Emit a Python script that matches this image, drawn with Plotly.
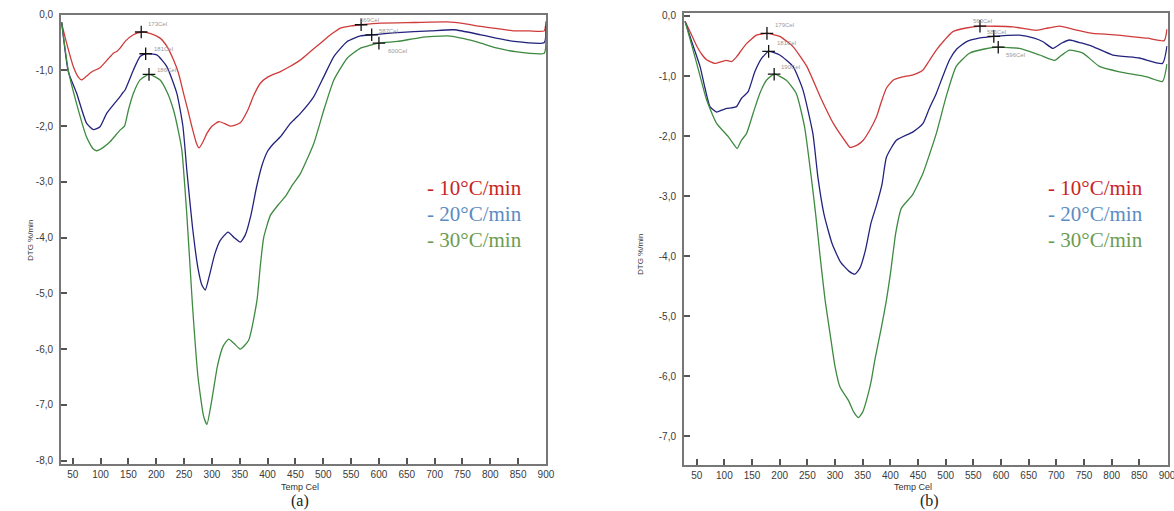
import plotly.graph_objects as go

# ---------------- Data: panel (a) ----------------
a_x_10 = [30, 39, 51, 60, 66, 75, 85, 99, 113, 123, 129, 135, 145, 159, 174, 190, 207, 220, 231, 240, 249, 257, 264, 272, 277, 284, 291, 300, 312, 322, 333, 342, 351, 365, 375, 387, 400, 423, 440, 459, 477, 495, 513, 531, 550, 568, 603, 663, 723, 753, 783, 813, 843, 870, 897, 900]
a_y_10 = [-0.15, -0.51, -0.93, -1.12, -1.17, -1.10, -1.02, -0.95, -0.80, -0.69, -0.66, -0.60, -0.47, -0.36, -0.31, -0.34, -0.42, -0.58, -0.81, -1.05, -1.41, -1.72, -2.01, -2.30, -2.39, -2.28, -2.13, -2.00, -1.92, -1.95, -2.00, -1.98, -1.94, -1.70, -1.45, -1.23, -1.12, -1.02, -0.93, -0.81, -0.66, -0.51, -0.36, -0.24, -0.20, -0.18, -0.15, -0.14, -0.13, -0.16, -0.21, -0.25, -0.29, -0.29, -0.29, -0.12]

a_x_20 = [30, 42, 57, 75, 87, 99, 111, 135, 140, 144, 159, 171, 181, 201, 219, 237, 248, 255, 265, 275, 282, 288, 295, 305, 315, 329, 340, 351, 360, 370, 380, 390, 400, 410, 423, 441, 459, 483, 501, 519, 543, 567, 587, 633, 693, 735, 783, 843, 897, 900]
a_y_20 = [-0.13, -1.02, -1.41, -1.95, -2.06, -2.01, -1.77, -1.47, -1.40, -1.35, -0.99, -0.75, -0.70, -0.72, -0.93, -1.41, -2.01, -2.80, -3.80, -4.55, -4.85, -4.94, -4.70, -4.30, -4.05, -3.90, -4.00, -4.08, -3.95, -3.60, -3.10, -2.70, -2.45, -2.32, -2.19, -1.95, -1.77, -1.47, -1.11, -0.75, -0.48, -0.38, -0.36, -0.32, -0.29, -0.27, -0.36, -0.48, -0.50, -0.20]

a_x_30 = [30, 42, 57, 75, 86, 93, 105, 117, 135, 143, 150, 159, 171, 187, 207, 220, 231, 240, 246, 255, 265, 275, 285, 291, 300, 310, 320, 330, 340, 351, 366, 381, 387, 393, 405, 420, 432, 445, 459, 483, 501, 519, 543, 567, 600, 633, 675, 723, 753, 783, 813, 843, 897, 900]
a_y_30 = [-0.13, -1.00, -1.60, -2.20, -2.40, -2.44, -2.38, -2.28, -2.07, -2.00, -1.71, -1.41, -1.17, -1.07, -1.17, -1.40, -1.71, -2.10, -2.43, -3.60, -5.20, -6.50, -7.20, -7.35, -6.90, -6.30, -5.95, -5.82, -5.90, -6.00, -5.84, -5.12, -4.50, -4.00, -3.60, -3.40, -3.26, -3.05, -2.85, -2.31, -1.71, -1.17, -0.78, -0.60, -0.51, -0.48, -0.41, -0.38, -0.43, -0.51, -0.60, -0.66, -0.69, -0.35]

a_peak_x = [173, 181, 187, 568, 587, 600]
a_peak_y = [-0.31, -0.70, -1.07, -0.18, -0.36, -0.51]
a_peak_labels = ["173Cel", "181Cel", "186Cel", "569Cel", "587Cel", "600Cel"]

# ---------------- Data: panel (b) ----------------
b_x_10 = [29, 40, 50, 60, 68, 83, 95, 104, 113, 122, 130, 140, 158, 177, 200, 224, 249, 273, 297, 321, 327, 340, 351, 363, 375, 383, 393, 405, 420, 441, 459, 470, 483, 498, 513, 537, 562, 621, 664, 685, 706, 735, 766, 800, 832, 865, 895, 900]
b_y_10 = [-0.09, -0.30, -0.50, -0.65, -0.73, -0.79, -0.76, -0.74, -0.76, -0.68, -0.58, -0.46, -0.32, -0.29, -0.34, -0.51, -0.84, -1.34, -1.79, -2.12, -2.19, -2.15, -2.07, -1.90, -1.68, -1.45, -1.20, -1.07, -1.02, -0.98, -0.90, -0.75, -0.57, -0.40, -0.26, -0.20, -0.17, -0.18, -0.24, -0.20, -0.17, -0.23, -0.29, -0.31, -0.34, -0.37, -0.41, -0.22]

b_x_20 = [29, 40, 56, 65, 74, 86, 95, 104, 113, 122, 131, 143, 155, 167, 180, 200, 224, 242, 260, 269, 280, 295, 310, 325, 336, 345, 355, 365, 375, 385, 393, 411, 441, 459, 470, 483, 495, 507, 520, 537, 560, 587, 633, 660, 676, 694, 710, 724, 745, 766, 802, 850, 892, 900]
b_y_20 = [-0.09, -0.40, -0.84, -1.20, -1.51, -1.60, -1.57, -1.54, -1.53, -1.51, -1.37, -1.26, -0.93, -0.71, -0.59, -0.65, -0.84, -1.23, -1.96, -2.68, -3.30, -3.80, -4.10, -4.25, -4.30, -4.20, -3.90, -3.45, -3.15, -2.80, -2.35, -2.07, -1.93, -1.79, -1.55, -1.29, -1.00, -0.73, -0.55, -0.43, -0.37, -0.34, -0.32, -0.37, -0.43, -0.54, -0.45, -0.40, -0.45, -0.51, -0.65, -0.70, -0.79, -0.50]

b_x_30 = [29, 40, 50, 68, 86, 107, 118, 123, 131, 140, 152, 164, 176, 190, 212, 230, 245, 257, 265, 273, 282, 291, 300, 309, 324, 334, 342, 350, 357, 365, 372, 384, 393, 400, 410, 420, 440, 459, 471, 483, 501, 519, 543, 570, 595, 633, 670, 697, 710, 724, 748, 778, 814, 862, 892, 900]
b_y_30 = [-0.09, -0.45, -0.79, -1.40, -1.79, -2.01, -2.15, -2.21, -2.07, -1.96, -1.62, -1.29, -1.07, -0.97, -1.07, -1.29, -1.85, -2.68, -3.30, -4.00, -4.73, -5.29, -5.84, -6.18, -6.40, -6.60, -6.69, -6.60, -6.40, -6.10, -5.73, -5.18, -4.73, -4.30, -3.60, -3.20, -2.98, -2.62, -2.30, -1.96, -1.34, -0.84, -0.62, -0.55, -0.52, -0.54, -0.65, -0.74, -0.65, -0.57, -0.62, -0.84, -0.93, -1.01, -1.09, -0.80]

b_peak_x = [177, 180, 190, 562, 587, 595]
b_peak_y = [-0.29, -0.59, -0.97, -0.17, -0.34, -0.52]
b_peak_labels = ["179Cel", "181Cel", "190Cel", "563Cel", "586Cel", "596Cel"]

series_names = ["10°C/min", "20°C/min", "30°C/min"]
x_ticks = list(range(50, 901, 50))
a_y_ticks = [0, -1, -2, -3, -4, -5, -6, -7, -8]
b_y_ticks = [0, -1, -2, -3, -4, -5, -6, -7]

# ---------------- Styles ----------------
line_colors = ["#cf3b3b", "#23237e", "#3e8a40"]
legend_colors = ["#c82424", "#5b8cc2", "#6c9c52"]
axis_color = "#777777"
tick_font = dict(family="Liberation Sans, Arial", size=10, color="#3a3a3a")

fig = go.Figure()

panels = [
    ("x", "y", [(a_x_10, a_y_10), (a_x_20, a_y_20), (a_x_30, a_y_30)], a_peak_x, a_peak_y),
    ("x2", "y2", [(b_x_10, b_y_10), (b_x_20, b_y_20), (b_x_30, b_y_30)], b_peak_x, b_peak_y),
]

for xa, ya, curves, px, py in panels:
    for (cx, cy), col, nm in zip(curves, line_colors, series_names):
        fig.add_trace(go.Scatter(x=cx, y=cy, mode="lines", name=nm, xaxis=xa, yaxis=ya,
                                 line=dict(color=col, width=1.3, shape="spline", smoothing=0.5),
                                 showlegend=False))
    fig.add_trace(go.Scatter(x=px, y=py, mode="markers", xaxis=xa, yaxis=ya, showlegend=False,
                             marker=dict(symbol="cross-thin", size=9, line=dict(color="#111111", width=1.3))))

# peak label offsets (pixels)
a_offsets = [(5, 8), (6, 5), (6, 4), (-3, 5), (5, 4), (7, -8)]
b_offsets = [(6, 8), (6, 8), (5, 7), (-9, 5), (-9, 4), (6, -8)]
for xa, ya, px, py, plab, offs in [("x", "y", a_peak_x, a_peak_y, a_peak_labels, a_offsets),
                                   ("x2", "y2", b_peak_x, b_peak_y, b_peak_labels, b_offsets)]:
    for xv, yv, t, (dx, dy) in zip(px, py, plab, offs):
        fig.add_annotation(x=xv, y=yv, xref=xa, yref=ya, text=t, showarrow=False,
                           xanchor="left", yanchor="middle", xshift=dx, yshift=dy,
                           font=dict(family="Liberation Sans, Arial", size=6, color="#9a9a9a"))

def xaxis_style(domain, rng):
    return dict(domain=domain, range=rng, tickmode="array", tickvals=x_ticks,
                ticktext=[str(v) for v in x_ticks], ticks="inside", ticklen=6, tickwidth=1.5,
                tickcolor="#555555", showline=True, linecolor=axis_color, linewidth=2, mirror=True,
                showgrid=False, zeroline=False, tickfont=tick_font, automargin=False,
                ticklabeloverflow="allow")

def yaxis_style(domain, rng, tv, anchor):
    return dict(domain=domain, range=rng, tickmode="array", tickvals=tv,
                ticktext=[("%.1f" % v).replace(".", ",") if v != 0 else "0,0" for v in tv],
                ticks="inside", ticklen=6, tickwidth=1.5, tickcolor="#555555", showline=True,
                linecolor=axis_color, linewidth=2, mirror=True, showgrid=False, zeroline=False,
                tickfont=tick_font, automargin=False, anchor=anchor, ticklabelstandoff=4)

fig.update_layout(
    width=1174, height=511, margin=dict(l=0, r=0, t=0, b=0),
    paper_bgcolor="white", plot_bgcolor="white", template="none",
    xaxis=dict(xaxis_style([0.0520, 0.4655], [29, 901]), anchor="y"),
    yaxis=yaxis_style([0.0920, 0.9712], [-8.06, 0.0], a_y_ticks, "x"),
    xaxis2=dict(xaxis_style([0.5826, 0.9945], [27, 901]), anchor="y2"),
    yaxis2=yaxis_style([0.0900, 0.9740], [-7.48, 0.045], b_y_ticks, "x2"),
)

W, H = 1174, 511
def paper(px_, py_):
    return px_ / W, 1 - py_ / H

# legend-like colored labels
for (lx, tops) in [(425, [188, 214, 240]), (1046, [188, 214, 240])]:
    for nm, col, yy in zip(series_names, legend_colors, tops):
        xp, yp = paper(lx, yy)
        fig.add_annotation(x=xp, y=yp, xref="paper", yref="paper", text="- " + nm, showarrow=False,
                           xanchor="left", yanchor="middle",
                           font=dict(family="Liberation Serif, Times New Roman", size=21, color=col))

# axis titles and panel captions
for cx, cy, txt, ang, fnt in [
    (31, 241, "DTG %/min", -90, dict(family="Liberation Sans, Arial", size=8, color="#333333")),
    (640, 255, "DTG %/min", -90, dict(family="Liberation Sans, Arial", size=8, color="#333333")),
    (300, 487, "Temp Cel", 0, dict(family="Liberation Sans, Arial", size=9, color="#333333")),
    (913, 487, "Temp Cel", 0, dict(family="Liberation Sans, Arial", size=9, color="#333333")),
    (300, 501, "(a)", 0, dict(family="Liberation Serif, Times New Roman", size=16, color="#222222")),
    (930, 501, "(b)", 0, dict(family="Liberation Serif, Times New Roman", size=16, color="#222222")),
]:
    xp, yp = paper(cx, cy)
    fig.add_annotation(x=xp, y=yp, xref="paper", yref="paper", text=txt, showarrow=False,
                       textangle=ang, xanchor="center", yanchor="middle", font=fnt)

fig.write_html("out.html")
